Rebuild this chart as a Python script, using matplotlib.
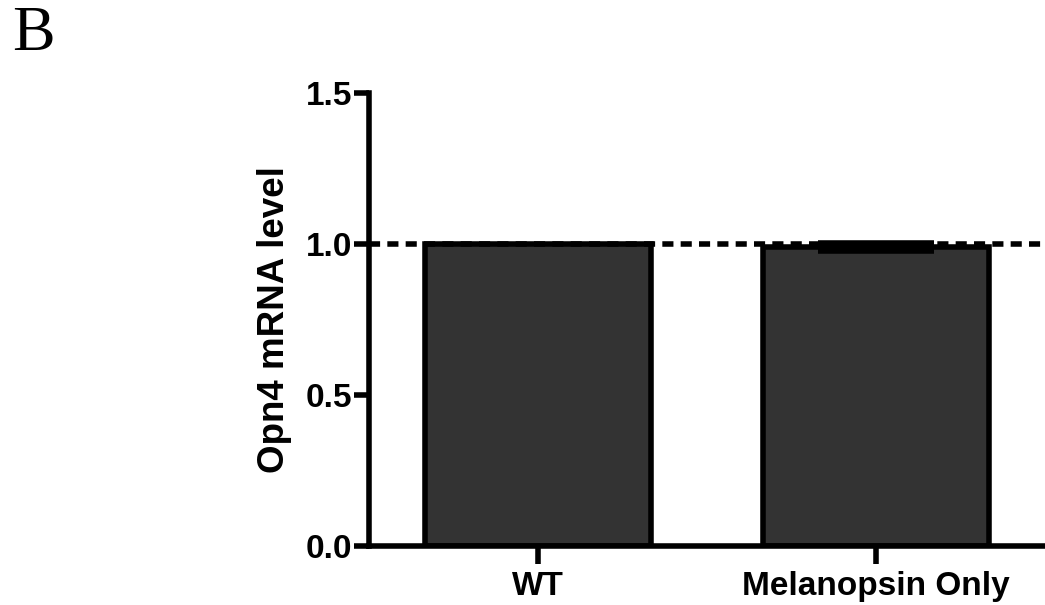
import matplotlib
matplotlib.use("Agg")
import matplotlib.pyplot as plt

groups = ["WT", "Melanopsin Only"]
means = [1.0, 0.99]
errors = [0.0, 0.012]

plt.rcParams['font.family'] = ['Liberation Sans', 'DejaVu Sans']
plt.rcParams['font.weight'] = 'bold'

fig = plt.figure(figsize=(10.45, 6.05), dpi=100)
ax = fig.add_axes([0.353, 0.0975, 0.647, 0.749])

x = list(range(len(groups)))
ax.bar(x, means, width=0.67, color='#333333', edgecolor='black', linewidth=4, zorder=2)
ax.errorbar(x[1:], means[1:], yerr=errors[1:], fmt='none', ecolor='black',
            elinewidth=4, capsize=42, capthick=4, zorder=3)
ax.axhline(1.0, color='black', linestyle=(0, (2, 1.3)), linewidth=4, zorder=4)

ax.set_xlim(-0.5, 1.5)
ax.set_ylim(0, 1.5)
ax.set_yticks([0.0, 0.5, 1.0, 1.5])
ax.set_yticklabels(['0.0', '0.5', '1.0', '1.5'])
ax.set_xticks(x)
ax.set_xticklabels(groups)
ax.set_ylabel('Opn4 mRNA level', fontsize=26.5, fontweight='bold', labelpad=10)

for s in ['top', 'right']:
    ax.spines[s].set_visible(False)
for s in ['left', 'bottom']:
    ax.spines[s].set_linewidth(4)
ax.tick_params(axis='both', width=4, length=11, labelsize=24, direction='out')
ax.tick_params(axis='x', length=13, pad=5)
ax.tick_params(axis='y', pad=1)

fig.text(0.012, 0.99, 'B', family='Liberation Serif', fontsize=46,
         fontweight='normal', va='top', ha='left')

fig.savefig('out.png', dpi=100)
